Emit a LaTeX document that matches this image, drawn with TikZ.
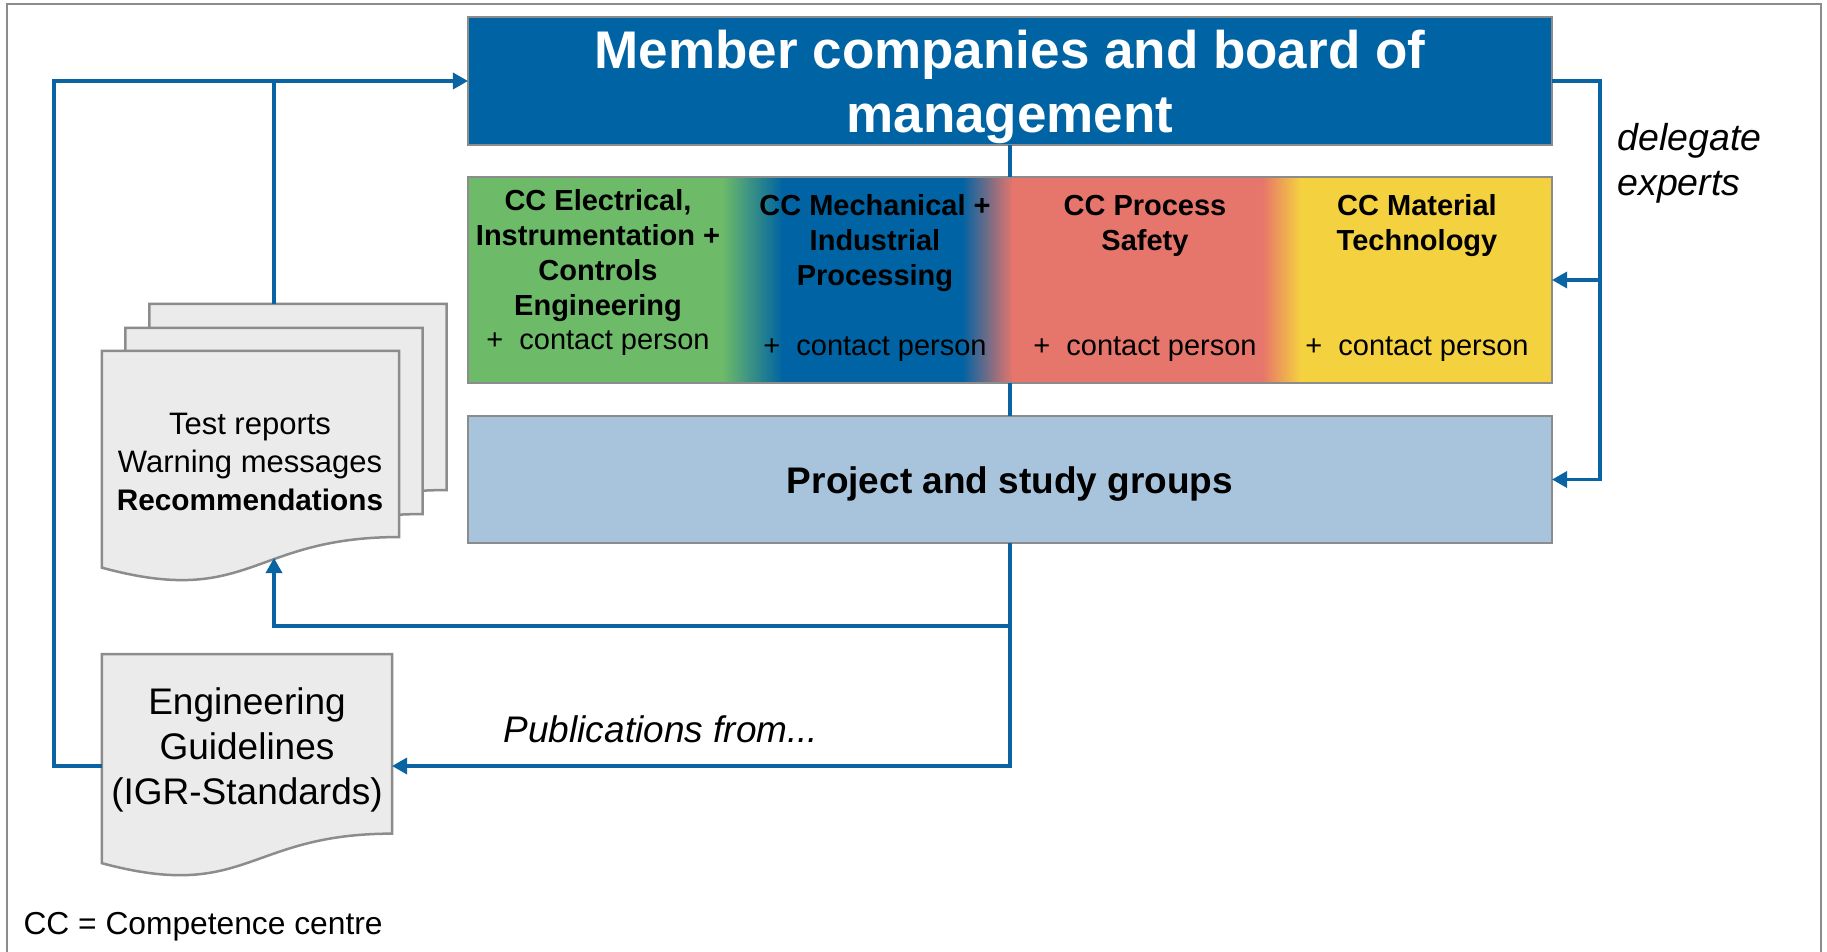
\documentclass[tikz,border=0pt]{standalone}
\usepackage{fontspec}
\setmainfont{Liberation Sans}
\usepackage{tikz}
\usetikzlibrary{calc, positioning, arrows.meta}

\definecolor{igrblue}{HTML}{0063A3}
\definecolor{lineblue}{HTML}{0A64A4}
\definecolor{ccgreen}{HTML}{6DBA69}
\definecolor{ccred}{HTML}{E6756B}
\definecolor{ccyellow}{HTML}{F4D13F}
\definecolor{projblue}{HTML}{A8C4DD}
\definecolor{docgray}{HTML}{EBEBEB}
\definecolor{edgegray}{HTML}{8C8C8C}

\tikzset{
  box/.style={draw=edgegray, line width=1.1pt, inner sep=0pt, outer sep=0pt, minimum width=433.6pt},
  docbox/.style={inner sep=0pt, outer sep=0pt, minimum width=118.8pt, minimum height=92.8pt},
  docline/.style={draw=edgegray, fill=docgray, line width=1pt},
  conn/.style={draw=lineblue, line width=1.35pt},
  tip/.style={-{Triangle[length=6pt,width=6.4pt]}},
  cctitle/.style={font=\fontsize{11.6}{14}\selectfont\bfseries, align=center},
  contact/.style={font=\fontsize{11.6}{14}\selectfont},
}

% document sheet with wavy foot, drawn over a named node
\newcommand{\docshape}[1]{%
  \filldraw[docline] (#1.north west) -- (#1.north east) -- ($(#1.north east)!0.802!(#1.south east)$)
    .. controls ($(#1.north)!0.802!(#1.south)$) and ($(#1.north)!1.108!(#1.south)$) .. ($(#1.north west)!0.934!(#1.south west)$) -- cycle;}

\begin{document}
\begin{tikzpicture}[x=0.4pt, y=-0.4pt]
  \useasboundingbox (0,0) rectangle (1827,952);
  \draw[edgegray, line width=0.8pt] (7,952) -- (7,4) -- (1821,4) -- (1821,952);

  % boxes
  \node[box, fill=igrblue, minimum height=51.2pt] (member) at (1010,81) {};
  \node[text=white, align=center, font=\fontsize{21.2}{25.6}\selectfont\bfseries] (membertext)
        at (1010,87) {Member companies and board of\\management};

  \fill[ccgreen] (468,177) rectangle (723,383);
  \shade[left color=ccgreen, right color=igrblue] (722,177) rectangle (783,383);
  \fill[igrblue] (782,177) rectangle (963,383);
  \shade[left color=igrblue, right color=ccred] (962,177) rectangle (1013,383);
  \fill[ccred] (1012,177) rectangle (1263,383);
  \shade[left color=ccred, right color=ccyellow] (1262,177) rectangle (1301,383);
  \fill[ccyellow] (1300,177) rectangle (1552,383);
  \node[box, minimum height=82.4pt] (cc) at (1010,280) {};

  \node[cctitle] (elec) at (598,255.5) {CC Electrical,\\Instrumentation +\\Controls\\Engineering};
  \node[cctitle] (mech) at (875,243.5) {CC Mechanical +\\Industrial\\Processing};
  \node[cctitle] (proc) at (1145,226) {CC Process\\Safety};
  \node[cctitle] (mat) at (1417,226) {CC Material\\Technology};
  \node[contact] (elecp) at (598,343.5) {+~~contact person};
  \node[contact] (mechp) at (875,349.5) {+~~contact person};
  \node[contact] (procp) at (1145,349.5) {+~~contact person};
  \node[contact] (matp) at (1417,349.5) {+~~contact person};

  \node[box, fill=projblue, minimum height=50.8pt] (proj) at (1010,479.5) {};
  \node[font=\fontsize{14.8}{18}\selectfont\bfseries] (projtext) at (1010,484.5) {Project and study groups};

  % documents
  \node[docbox] (rep3) at (298,420) {};
  \node[docbox] (rep2) at (274,444) {};
  \node[docbox] (rep) at (250.5,467) {};
  \docshape{rep3}
  \docshape{rep2}
  \docshape{rep}
  \node[align=center, font=\fontsize{12.4}{15.2}\selectfont] (reptext) at (250,461.5)
        {Test reports\\Warning messages\\{\fontsize{11.9}{15.2}\selectfont\bfseries Recommendations}};

  \node[docbox, minimum width=116pt, minimum height=89.6pt] (eng) at (247,766) {};
  \docshape{eng}
  \node[align=center, font=\fontsize{14.8}{18}\selectfont] (engtext) at (247,750)
        {Engineering\\Guidelines\\(IGR-Standards)};

  % connectors
  \coordinate (split) at (1010,626);
  \coordinate (repfoot) at (274,558);
  \coordinate (deleg) at (1600,81);
  \draw[conn] (member) -- (cc);
  \draw[conn] (cc) -- (proj);
  \draw[conn, tip] (proj.south) |- (eng.east);
  \draw[conn, tip] (split) -| (repfoot);
  \draw[conn, tip] (eng.west) -- ++(-48,0) |- (member.west);
  \draw[conn] (repfoot |- rep3.north) -- (repfoot |- member.west);
  \draw[conn, tip] (member.east) -- (deleg) |- (proj.east);
  \draw[conn, tip] (deleg) |- (cc.east);

  % labels
  \node[font=\fontsize{14.8}{18}\selectfont\itshape] (pub) at (661,729) {Publications from...};
  \node[anchor=west, align=left, inner sep=0pt, font=\fontsize{15}{18}\selectfont\itshape] (deltext) at (1617,163) {delegate\\experts};
  \node[anchor=west, inner sep=0pt, font=\fontsize{12.7}{15}\selectfont] (ccnote) at (23,927) {CC = Competence centre};
\end{tikzpicture}
\end{document}
